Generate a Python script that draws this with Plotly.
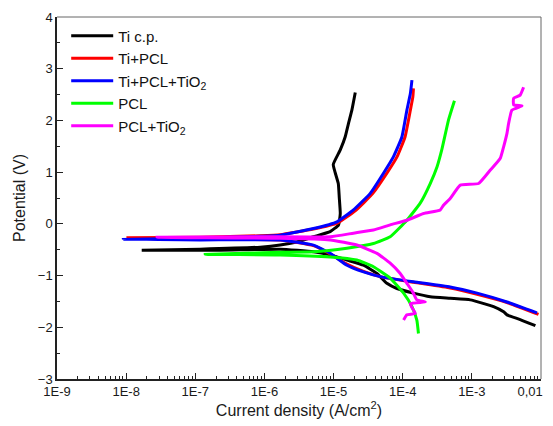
import plotly.graph_objects as go

# ---------------- data (current density in A/cm2, potential in V) ----------------
# each curve is listed from the cathodic end, through the corrosion point, to the anodic end
ti_cp_I = [8.3e-3, 5.0e-3, 3.22e-3, 2.88e-3, 2.06e-3, 9.5e-4, 4.86e-4, 2.50e-4, 1.43e-4, 8.24e-5,
           5.9e-5, 4.24e-5, 2.71e-5, 1.56e-5, 8.93e-6, 5.12e-6, 1.69e-6, 2.29e-7, 1.68e-8,
           1.17e-7, 8.7e-7, 1.69e-6, 2.94e-6, 5.12e-6, 8.93e-6, 1.18e-5, 1.25e-5, 1.21e-5,
           1.17e-5, 1.05e-5, 9.9e-6, 1.25e-5, 1.47e-5, 1.64e-5, 1.84e-5, 2.06e-5]
ti_cp_E = [-1.97, -1.85, -1.76, -1.70, -1.60, -1.47, -1.44, -1.41, -1.34, -1.25,
           -1.15, -0.96, -0.80, -0.70, -0.60, -0.54, -0.49, -0.51, -0.51,
           -0.49, -0.45, -0.41, -0.35, -0.25, -0.15, -0.02, 0.20, 0.50,
           0.78, 1.00, 1.15, 1.43, 1.68, 1.94, 2.20, 2.54]

ti_pcl_I = [9.2e-3, 3.22e-3, 1.19e-3, 4.86e-4, 1.43e-4, 4.72e-5, 2.71e-5, 1.56e-5, 8.93e-6,
            5.12e-6, 1.69e-6, 1.17e-7, 1.06e-8,
            1.17e-7, 8.7e-7, 1.69e-6, 5.12e-6, 1.15e-5, 2.05e-5, 3.7e-5, 5.9e-5, 8.3e-5,
            1.08e-4, 1.29e-4, 1.40e-4, 1.43e-4]
ti_pcl_E = [-1.75, -1.52, -1.36, -1.24, -1.13, -1.02, -0.92, -0.78, -0.58,
            -0.42, -0.31, -0.30, -0.27,
            -0.26, -0.23, -0.21, -0.10, 0.02, 0.25, 0.59, 0.98, 1.30,
            1.68, 2.20, 2.45, 2.62]

ti_pcl_tio2_I = [8.75e-3, 3.22e-3, 1.19e-3, 4.86e-4, 1.43e-4, 4.72e-5, 2.71e-5, 1.56e-5, 8.93e-6,
                 5.12e-6, 1.69e-6, 1.17e-7, 9.1e-9,
                 1.17e-7, 8.7e-7, 1.69e-6, 5.12e-6, 1.12e-5, 1.94e-5, 3.39e-5, 5.27e-5, 7.36e-5,
                 9.73e-5, 1.15e-4, 1.29e-4, 1.36e-4]
ti_pcl_tio2_E = [-1.72, -1.51, -1.34, -1.22, -1.12, -1.02, -0.93, -0.80, -0.57,
                 -0.41, -0.31, -0.31, -0.30,
                 -0.28, -0.24, -0.22, -0.09, 0.04, 0.27, 0.59, 0.98, 1.30,
                 1.68, 2.20, 2.52, 2.78]

pcl_I = [1.69e-4, 1.60e-4, 1.36e-4, 1.03e-4, 6.59e-5, 3.78e-5, 2.17e-5, 8.93e-6, 1.69e-6, 1.39e-7,
         1.69e-6, 5.12e-6, 1.56e-5, 3.78e-5, 6.59e-5, 1.15e-4, 1.79e-4, 2.50e-4, 3.13e-4,
         3.7e-4, 4.6e-4, 5.6e-4]
pcl_E = [-2.12, -1.86, -1.60, -1.34, -1.05, -0.83, -0.70, -0.64, -0.60, -0.59,
         -0.55, -0.54, -0.47, -0.38, -0.25, 0.07, 0.40, 0.78, 1.10,
         1.45, 2.01, 2.38]

pcl_tio2_I = [1.03e-4, 1.15e-4, 1.52e-4, 1.36e-4, 1.29e-4, 2.12e-4, 1.60e-4, 1.43e-4, 1.15e-4,
              9.2e-5, 6.59e-5, 4.24e-5, 2.17e-5, 8.93e-6, 1.69e-6, 2.8e-8,
              8.7e-7, 8.93e-6, 1.94e-5, 3.78e-5, 6.59e-5, 1.15e-4, 2.0e-4, 3.49e-4, 3.89e-4,
              4.86e-4, 6.8e-4, 1.25e-3, 1.85e-3, 2.58e-3, 2.88e-3, 3.22e-3, 3.40e-3, 3.80e-3,
              5.31e-3, 4.02e-3, 4.02e-3, 5.0e-3, 5.6e-3]
pcl_tio2_E = [-1.86, -1.76, -1.73, -1.62, -1.54, -1.51, -1.47, -1.34, -1.15,
              -0.96, -0.76, -0.57, -0.41, -0.31, -0.28, -0.26,
              -0.25, -0.25, -0.18, -0.12, -0.02, 0.07, 0.20, 0.27, 0.36,
              0.49, 0.75, 0.78, 1.04, 1.27, 1.49, 1.75, 1.94, 2.20,
              2.28, 2.30, 2.43, 2.49, 2.64]

series_names = ["Ti c.p.", "Ti+PCL", "Ti+PCL+TiO<sub>2</sub>", "PCL", "PCL+TiO<sub>2</sub>"]
series_colors = ["#000000", "#ff0000", "#0000ff", "#00ff00", "#ff00ff"]

x_tick_vals = [1e-9, 1e-8, 1e-7, 1e-6, 1e-5, 1e-4, 1e-3, 1e-2]
x_tick_text = ["1E-9", "1E-8", "1E-7", "1E-6", "1E-5", "1E-4", "1E-3",
               "0,01\u00a0\u00a0\u00a0\u00a0\u00a0\u00a0"]
y_tick_vals = [-3, -2, -1, 0, 1, 2, 3, 4]

# ---------------- figure ----------------
FONT = "Arial, Liberation Sans, sans-serif"
fig = go.Figure()
data = [(ti_cp_I, ti_cp_E), (ti_pcl_I, ti_pcl_E), (ti_pcl_tio2_I, ti_pcl_tio2_E),
        (pcl_I, pcl_E), (pcl_tio2_I, pcl_tio2_E)]
for (xs, ys), name, color in zip(data, series_names, series_colors):
    fig.add_trace(go.Scatter(x=xs, y=ys, mode="lines", name=name,
                             line=dict(color=color, width=3, shape="spline", smoothing=0.4)))

minor_x = [m * 10.0 ** e for e in range(-9, -2) for m in range(2, 10)]

# the page body has an 8px margin, so the figure margins are reduced accordingly
fig.update_layout(
    width=553, height=426,
    margin=dict(l=49, r=20, t=9, b=55, autoexpand=False),
    paper_bgcolor="white", plot_bgcolor="white",
    font=dict(family=FONT, size=13, color="#1a1a1a"),
    showlegend=True,
    legend=dict(x=0.019, y=0.993, xanchor="left", yanchor="top",
                bgcolor="rgba(0,0,0,0)", font=dict(size=15, color="#111"),
                itemwidth=42, tracegroupgap=0),
    shapes=[
        dict(type="line", xref="paper", yref="paper", x0=0, x1=1, y0=1, y1=1,
             line=dict(color="#666", width=1)),
        dict(type="line", xref="paper", yref="paper", x0=1, x1=1, y0=0, y1=1,
             line=dict(color="#666", width=1)),
    ],
)
fig.update_xaxes(
    type="log", range=[-9, -2], automargin=False, ticklabeloverflow="allow",
    tickmode="array", tickvals=x_tick_vals, ticktext=x_tick_text,
    ticks="inside", ticklen=6, tickwidth=1, tickcolor="#222",
    minor=dict(tickmode="array", tickvals=minor_x, ticks="inside", ticklen=3,
               tickcolor="#222", showgrid=False),
    showline=True, linecolor="#222", linewidth=1.5, mirror=False,
    showgrid=False, zeroline=False,
    title=dict(text="Current density (A/cm<sup>2</sup>)", font=dict(size=16), standoff=4),
)
fig.update_yaxes(
    range=[-3, 4], automargin=False, tickmode="array", tickvals=y_tick_vals,
    ticks="inside", ticklen=6, tickwidth=1, tickcolor="#222",
    minor=dict(dtick=0.5, ticks="inside", ticklen=3, tickcolor="#222", showgrid=False),
    showline=True, linecolor="#222", linewidth=1.5, mirror=False,
    showgrid=False, zeroline=False,
    title=dict(text="Potential (V)", font=dict(size=16), standoff=8),
)

fig.write_html("out.html")
